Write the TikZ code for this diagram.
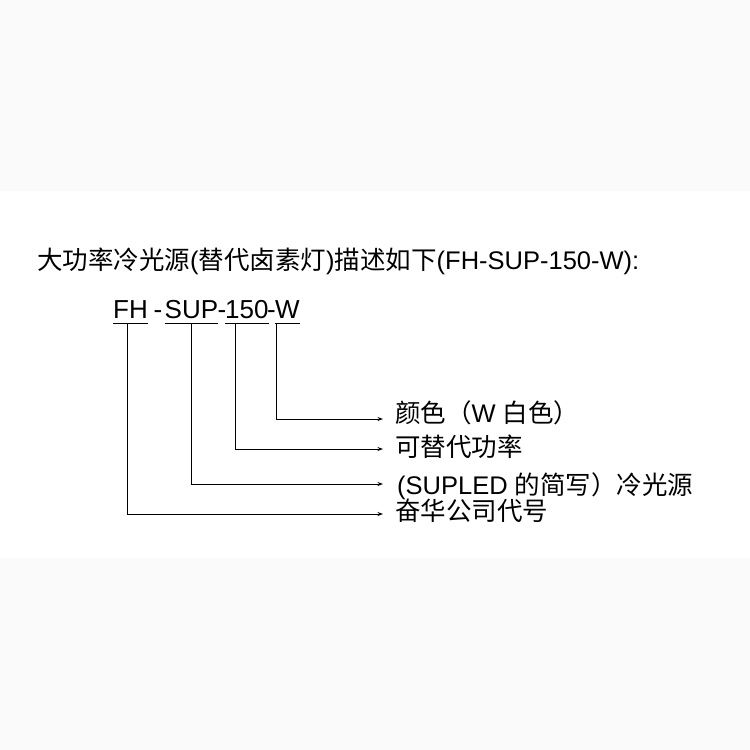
\documentclass[tikz,border=0pt]{standalone}
\usepackage{fontspec}
\setmainfont{Liberation Sans}
\newfontfamily\cjk{Noto Sans CJK SC}
\usetikzlibrary{arrows.meta}
\begin{document}
\begin{tikzpicture}[x=1pt,y=-1pt,
  ttl/.style={inner sep=0pt, anchor=base west, font=\fontsize{25.5}{30}\selectfont},
  txt/.style={inner sep=0pt, anchor=base west, font=\fontsize{26}{30}\selectfont},
  lab/.style={inner sep=0pt, anchor=base west, text height=18pt, text depth=2.5pt,
    font=\fontsize{25.5}{30}\selectfont},
  uline/.style={line width=1.3pt},
  conn/.style={line width=0.9pt, -{Stealth[length=5.5pt,width=4pt]}}]
\useasboundingbox (0,0) rectangle (750,750);
\fill[gray!4] (0,0) rectangle (750,191);
\fill[gray!4] (0,558) rectangle (750,750);
% title
\node[ttl] (title) at (37,269) {{\cjk 大功率冷光源}({\cjk 替代卤素灯}){\cjk 描述如下}(FH-SUP-150-W):};
% code parts
\node[txt] (fh) at (113,318) {FH};
\node[txt] (h1) at (153.5,318) {-};
\node[txt] (sup) at (164.5,318) {SUP};
\node[txt] (h2) at (217.5,318) {-};
\node[txt] (n150) at (225,318) {150};
\node[txt] (h3) at (267,318) {-};
\node[txt] (w) at (275,318) {W};
% underlines
\foreach \n in {fh,sup,n150,w}
  \draw[uline] ([yshift=-5.7pt]\n.base west) -- ([yshift=-5.7pt]\n.base east);
% arrow ends
\coordinate (a1) at (383,419);
\coordinate (a2) at (383,449);
\coordinate (a3) at (383,484);
\coordinate (a4) at (383,514);
% labels
\node[lab] (l1) at (395,422) {{\cjk 颜色（}W {\cjk 白色）}};
\node[lab] (l2) at (395,456) {\cjk 可替代功率};
\node[lab] (l3) at (397,494) {(SUPLED {\cjk 的简写）冷光源}};
\node[lab] (l4) at (395,520) {\cjk 奋华公司代号};
% connectors
\draw[conn] ([xshift=14pt,yshift=-5.7pt]fh.base west) |- (a4);
\draw[conn] ([yshift=-5.7pt]sup.base) |- (a3);
\draw[conn] ([xshift=10pt,yshift=-5.7pt]n150.base west) |- (a2);
\draw[conn] ([xshift=1pt,yshift=-5.7pt]w.base west) |- (a1);
\end{tikzpicture}
\end{document}
